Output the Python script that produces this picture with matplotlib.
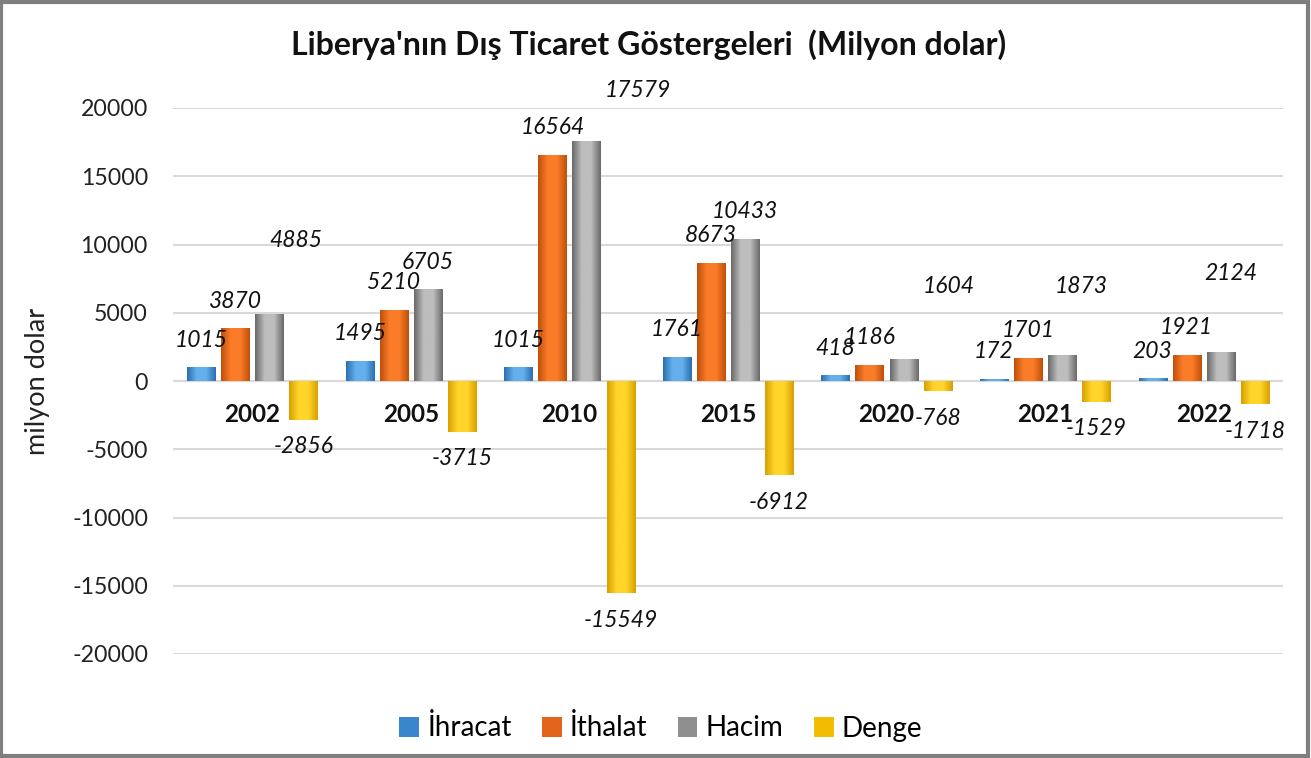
import numpy as np
import matplotlib
matplotlib.use("Agg")
import matplotlib.pyplot as plt
from matplotlib.patches import Patch, Rectangle
from matplotlib.colors import LinearSegmentedColormap

plt.rcParams['font.family'] = ['Lato', 'DejaVu Sans']

# ---- data ----
years = ["2002", "2005", "2010", "2015", "2020", "2021", "2022"]
ihracat = [1015, 1495, 1015, 1761, 418, 172, 203]
ithalat = [3870, 5210, 16564, 8673, 1186, 1701, 1921]
hacim = [4885, 6705, 17579, 10433, 1604, 1873, 2124]
denge = [-2856, -3715, -15549, -6912, -768, -1529, -1718]
series_names = ["İhracat", "İthalat", "Hacim", "Denge"]
yticks = [20000, 15000, 10000, 5000, 0, -5000, -10000, -15000, -20000]

# ---- style ----
series = [ihracat, ithalat, hacim, denge]
edge_cols = ["#2b6fb3", "#c0500a", "#6a6a6a", "#d9a000"]
mid_cols = ["#64b0ec", "#fb7c28", "#bdbdbd", "#ffd52a"]
legend_cols = ["#3a86cc", "#e2651c", "#8f8f8f", "#f2bd00"]
# manual label nudges (pixels) for Hacim labels moved in the original
hacim_nudge = {0: (27, 74), 2: (51, 51), 4: (45, 73), 5: (19, 69), 6: (10, 79)}

W, H = 1311, 758
fig = plt.figure(figsize=(W / 100, H / 100), dpi=100)
fig.patch.set_facecolor("white")
ax = fig.add_axes([173 / W, (H - 654) / H, (1283 - 173) / W, (654 - 108) / H])

n = len(years)
x = np.arange(n)
ax.set_xlim(-0.5, n - 0.5)
ax.set_ylim(-20000, 20000)

step = 0.215
bw = 0.177
offsets = (np.arange(4) - 1.5) * step

for k, vals in enumerate(series):
    cmap = LinearSegmentedColormap.from_list("g%d" % k, [edge_cols[k], mid_cols[k], mid_cols[k], edge_cols[k]])
    grad = np.linspace(0, 1, 64).reshape(1, -1)
    bars = ax.bar(x + offsets[k], vals, width=bw, color=legend_cols[k], zorder=2, linewidth=0)
    for b in bars:
        x0, y0 = b.get_x(), b.get_y()
        w_, h_ = b.get_width(), b.get_height()
        im = ax.imshow(grad, cmap=cmap, aspect="auto", zorder=3,
                       extent=(x0, x0 + w_, min(y0, y0 + h_), max(y0, y0 + h_)),
                       interpolation="bilinear")
        im.set_clip_path(b)
    # data labels
    for i, v in enumerate(vals):
        dx, dy = 0, 27
        if k == 2 and i in hacim_nudge:
            dx, dy = hacim_nudge[i]
        sgn = 1 if v >= 0 else -1
        ax.annotate(f"{v}", xy=(x[i] + offsets[k], v), xytext=(dx, sgn * dy),
                    textcoords="offset pixels", ha="center", va="center",
                    fontsize=16.5, fontstyle="italic", color="#111111",
                    zorder=5, annotation_clip=False)

ax.set_xlim(-0.5, n - 0.5)
ax.set_ylim(-20000, 20000)

# year labels near zero line
for i, yr in enumerate(years):
    ax.annotate(yr, xy=(x[i], 0), xytext=(0, -34), textcoords="offset pixels",
                ha="center", va="center", fontsize=17.5, fontweight="bold",
                color="#111111", zorder=6)

ax.set_yticks(yticks)
ax.set_yticklabels([str(t) for t in yticks])
ax.set_xticks([])
ax.tick_params(axis="y", length=0, pad=18, labelsize=16.7, labelcolor="#222222")
ax.grid(axis="y", color="#d9d9d9", linewidth=1.5, zorder=0)
ax.set_axisbelow(True)
for s in ax.spines.values():
    s.set_visible(False)
ax.axhline(0, color="#d9d9d9", linewidth=1.5, zorder=1)

ax.set_ylabel("milyon dolar", fontsize=19.5, color="#222222")
ax.yaxis.set_label_coords(-0.111, 0.5)

fig.text(649 / W, 1 - 45 / H, "Liberya'nın Dış Ticaret Göstergeleri  (Milyon dolar)",
         ha="center", va="center", fontsize=23, fontweight="bold", color="#111111")

handles = [Patch(facecolor=c, edgecolor="none") for c in legend_cols]
fig.legend(handles, series_names, loc="center", bbox_to_anchor=(661 / W, 1 - 728 / H),
           ncol=4, frameon=False, fontsize=20, handlelength=0.7, handleheight=0.7,
           handletextpad=0.3, columnspacing=1.1)

fig.add_artist(Rectangle((0.001, 0.002), 0.997, 0.996, transform=fig.transFigure,
                         fill=False, edgecolor="#7f7f7f", linewidth=3))

fig.savefig("out.png", dpi=100, facecolor="white")
